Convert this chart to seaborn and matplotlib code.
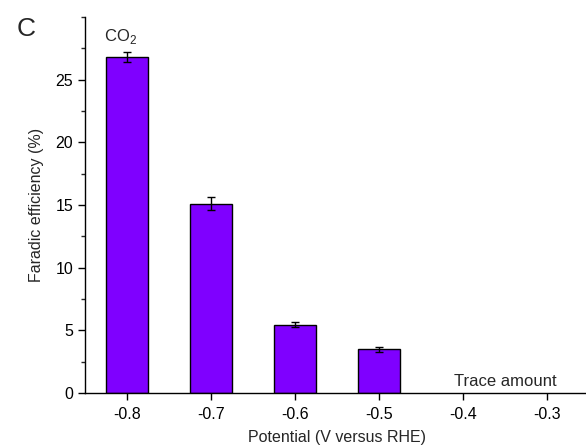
import numpy as np
import pandas as pd
import matplotlib
matplotlib.use("Agg")
import matplotlib.pyplot as plt
import seaborn as sns
from matplotlib.ticker import MultipleLocator

# values
potential = [-0.8, -0.7, -0.6, -0.5]
efficiency = [26.8, 15.1, 5.45, 3.48]
error = [0.40, 0.50, 0.22, 0.20]
tick_positions = [-0.8, -0.7, -0.6, -0.5, -0.4, -0.3]
tick_labels = ["-0.8", "-0.7", "-0.6", "-0.5", "-0.4", "-0.3"]

sns.set_style("ticks")
plt.rcParams["font.family"] = ["Liberation Sans", "DejaVu Sans"]
plt.rcParams["mathtext.fontset"] = "custom"
plt.rcParams["mathtext.rm"] = "Liberation Sans"

df = pd.DataFrame({"potential": potential, "fe": efficiency})

fig = plt.figure(figsize=(5.86, 4.46), dpi=100)
ax = fig.add_axes([0.145, 0.119, 0.86, 0.843])

sns.barplot(data=df, x="potential", y="fe", native_scale=True, width=0.5,
            color="#7F00FF", saturation=1, edgecolor="black", linewidth=1.0,
            errorbar=None, ax=ax)
ax.errorbar(potential, efficiency, yerr=error, fmt="none", ecolor="black",
            elinewidth=1.0, capsize=3, capthick=1.0)

ax.set_xlim(-0.85, -0.25)
ax.set_ylim(0, 30)
ax.set_xticks(tick_positions)
ax.set_xticklabels(tick_labels)
ax.set_yticks([0, 5, 10, 15, 20, 25])
ax.yaxis.set_minor_locator(MultipleLocator(2.5))
ax.tick_params(axis="both", which="major", direction="out", length=5, width=1,
               labelsize=11.5, colors="black")
ax.tick_params(axis="x", which="major", pad=5)
ax.tick_params(axis="y", which="minor", direction="out", length=3, width=1)
for side in ["top", "right"]:
    ax.spines[side].set_visible(False)
for side in ["left", "bottom"]:
    ax.spines[side].set_linewidth(1.0)
    ax.spines[side].set_color("black")

ax.set_xlabel("Potential (V versus RHE)", fontsize=11.5, labelpad=6)
ax.set_ylabel("Faradic efficiency (%)", fontsize=11.5, labelpad=8)

ax.text(-0.808, 27.7, "CO$_\\mathregular{2}$", ha="center", va="bottom", fontsize=12)
ax.text(-0.35, 0.3, "Trace amount", ha="center", va="bottom", fontsize=12)
fig.text(0.028, 0.962, "C", fontsize=19, ha="left", va="top")

fig.savefig("out.png", dpi=100)
